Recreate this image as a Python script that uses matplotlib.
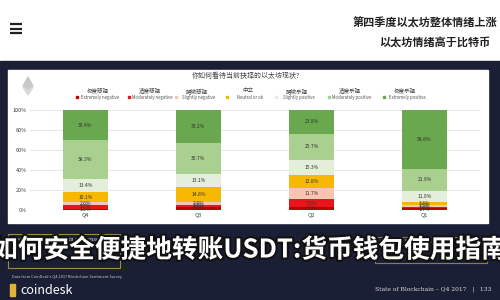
import numpy as np
import matplotlib
matplotlib.use("Agg")
from matplotlib import pyplot as plt
from matplotlib.patches import Rectangle, Polygon
import matplotlib.patheffects as pe

plt.rcParams['font.family'] = ['Noto Sans CJK SC', 'DejaVu Sans']

# data (percent, bottom to top)
quarters = ['Q4', 'Q3', 'Q2', 'Q1']
ext_neg = [1.5, 3.0, 3.2, 1.7]
mod_neg = [3.7, 2.4, 7.5, 1.8]
sl_neg = [2.6, 2.8, 11.7, 1.5]
neutral = [10.1, 14.8, 12.8, 3.3]
sl_pos = [13.4, 13.1, 15.3, 11.0]
mod_pos = [38.3, 30.7, 25.7, 21.9]
ext_pos = [30.4, 33.2, 23.8, 58.8]

series_cn = ['极度悲观', '适度悲观', '略微悲观', '中立', '略微乐观', '适度乐观', '极度乐观']
series_en = ['Extremely negative', 'Moderately negative', 'Slightly negative',
             'Neutral or ok', 'Slightly positive', 'Moderately positive', 'Extremely positive']
colors = ['#c00000', '#e8161c', '#f6c6b2', '#f6b800', '#e3eedb', '#a9d08e', '#6aa84f']
y_ticks = [0, 20, 40, 60, 80, 100]

W, H = 500, 300
fig = plt.figure(figsize=(5, 3), dpi=100)

# background in pixel coordinates
bg = fig.add_axes([0, 0, 1, 1])
bg.set_xlim(0, W)
bg.set_ylim(H, 0)
bg.axis('off')
bg.add_patch(Rectangle((0, 0), W, 61, color='white'))
bg.add_patch(Rectangle((0, 61), W, H - 61, color='#1b1f36'))
bg.add_patch(Rectangle((8, 70), 480, 153, color='white'))

# hamburger icon
for yy in (24, 28.5, 33):
    bg.plot([10, 22], [yy, yy], color='#222222', lw=1.6, solid_capstyle='butt')

# page headline
bg.text(497, 23, '第四季度以太坊整体情绪上涨', ha='right', va='center',
        fontsize=8, fontweight='bold', color='#222222')
bg.text(490, 42, '以太坊情绪高于比特币', ha='right', va='center',
        fontsize=8, fontweight='bold', color='#222222')

# chart title and ethereum mark
bg.text(300, 76, '你如何看待当前抉择的以太坊现状?', ha='right', va='center',
        fontsize=5, color='#444444')
bg.add_patch(Polygon([[28, 77], [33, 86], [28, 89], [23, 86]], color='#c8c8c8'))
bg.add_patch(Polygon([[28, 90], [33, 87], [28, 95], [23, 87]], color='#d8d8d8'))

# legend
leg_x = [98, 150, 197, 248, 297, 350, 405]
for i in range(7):
    bg.text(leg_x[i], 91, series_cn[i], ha='center', va='center', fontsize=4, color='#444444')
    bg.text(leg_x[i] + 2, 97.5, series_en[i], ha='center', va='center', fontsize=3.1, color='#555555')
    bg.add_patch(Rectangle((leg_x[i] - 22, 96.4), 2, 2, color=colors[i]))

# bottom decorations
bg.add_patch(Rectangle((8, 234), 112, 34, fill=False, ec='#a08a3c', lw=0.8))
bg.text(12, 240, 'Overall state of bitcoin response', fontsize=3.8, color='#dddddd',
        family='DejaVu Serif', va='center')
bg.add_patch(Rectangle((107, 236), 6, 7, color='#d9a441'))
bg.text(12, 277, "Data from CoinDesk's Q4 2017 Blockchain Sentiment Survey", fontsize=2.8,
        color='#cccccc', va='center')
bg.add_patch(Rectangle((10, 284), 5, 12, color='#e2b23a'))
bg.text(20, 290, 'coindesk', fontsize=9, color='white', va='center')
bg.add_patch(Rectangle((375, 237), 112, 26, fill=False, ec='#8a7a4c', lw=0.8))
bg.text(380, 241, 'Q4 2017 State of Blockchain response', fontsize=3.8, color='#dddddd',
        family='DejaVu Serif', va='center')
bg.text(375, 289, 'State of Blockchain – Q4 2017   |   133', fontsize=4.3,
        color='#dddddd', family='DejaVu Serif', va='center')

# stacked bar chart
ax = fig.add_axes([30 / W, 1 - 210 / H, 450 / W, 100 / H])
x = np.arange(len(quarters))
stack = [ext_neg, mod_neg, sl_neg, neutral, sl_pos, mod_pos, ext_pos]
bottom = np.zeros(len(quarters))
for vals, c in zip(stack, colors):
    vals = np.array(vals)
    ax.bar(x, vals, 0.4, bottom=bottom, color=c, zorder=2)
    for xi, b, v in zip(x, bottom, vals):
        ax.text(xi, b + v / 2, f'{v:.1f}%', ha='center', va='center',
                fontsize=3.6, color='#333333', zorder=3)
    bottom += vals

ax.set_xlim(-0.49, 3.49)
ax.set_ylim(0, 100)
ax.set_yticks(y_ticks)
ax.set_yticklabels([f'{t}%' for t in y_ticks])
ax.set_xticks(x)
ax.set_xticklabels(quarters)
ax.tick_params(length=0, labelsize=4, colors='#444444', pad=2)
ax.grid(axis='y', color='#e4e4e4', lw=0.6, zorder=0)
for s in ax.spines.values():
    s.set_visible(False)
ax.patch.set_alpha(0)

# article title laid over the picture
fig.text(250 / W, 1 - 250 / H, '如何安全便捷地转账USDT:货币钱包使用指南',
         ha='center', va='center', fontsize=18.5, fontweight='bold', color='white',
         path_effects=[pe.withStroke(linewidth=3, foreground='#111111')])

fig.savefig('out.png', dpi=100)
